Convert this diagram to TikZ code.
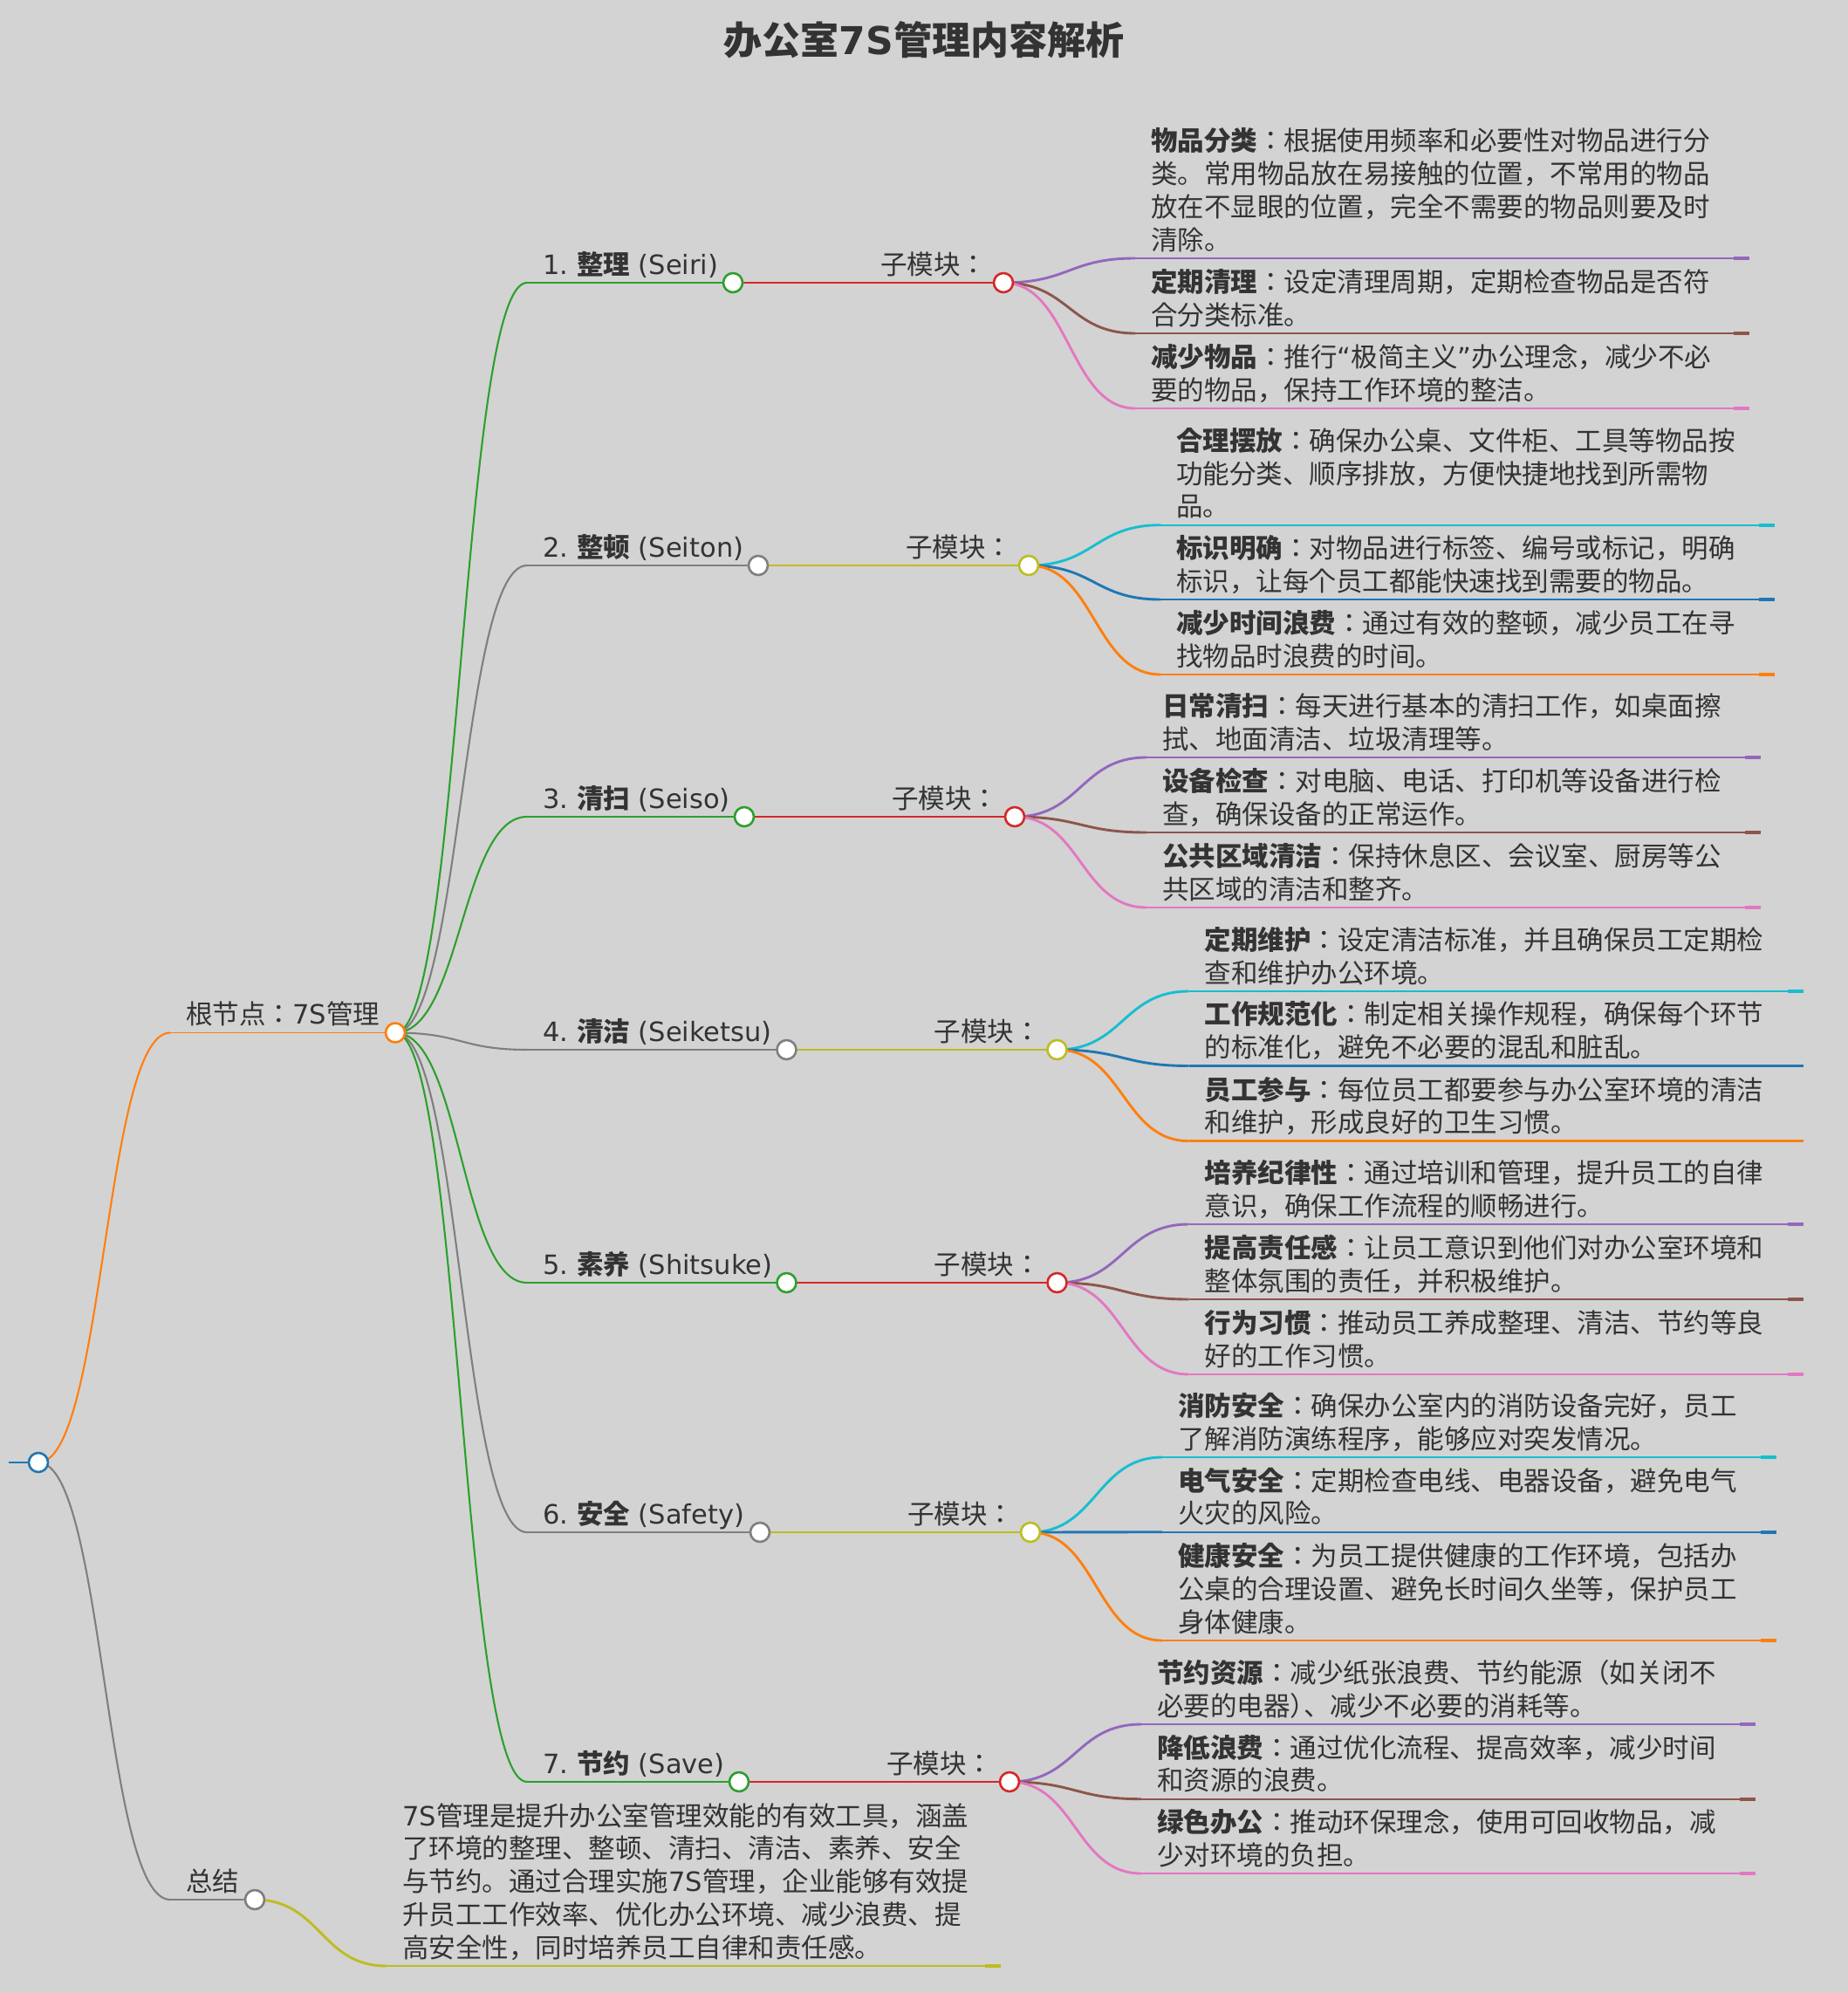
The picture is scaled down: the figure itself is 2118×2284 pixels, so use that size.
\documentclass[tikz,border=0pt]{standalone}
\usepackage{fontspec}
\setmainfont{Noto Sans CJK JP}
\newfontfamily\lat{DejaVu Sans}
\usetikzlibrary{calc}
\definecolor{bgc}{HTML}{D3D3D3}
\definecolor{txt}{HTML}{333333}
\definecolor{mblue}{HTML}{1F77B4}
\definecolor{morange}{HTML}{FF7F0E}
\definecolor{mgreen}{HTML}{2CA02C}
\definecolor{mred}{HTML}{D62728}
\definecolor{mpurple}{HTML}{9467BD}
\definecolor{mbrown}{HTML}{8C564B}
\definecolor{mpink}{HTML}{E377C2}
\definecolor{mgray}{HTML}{7F7F7F}
\definecolor{molive}{HTML}{BCBD22}
\definecolor{mcyan}{HTML}{17BECF}
\pgfdeclarelayer{back}
\pgfdeclarelayer{links}
\pgfsetlayers{back,links,main}
\begin{document}
\begin{tikzpicture}[x=0.5pt,y=-0.5pt,
	lbl/.style={anchor=south west,inner sep=0pt,align=left,text=txt,font=\fontsize{15.25}{18.9}\selectfont},
	knob/.style={circle,draw=#1,fill=white,line width=1.3pt,minimum size=11pt,inner sep=0pt},
	lnkA/.style={line width=1.05pt},ulA/.style={line width=0.9pt},
	lnkB/.style={line width=1.05pt},ulB/.style={line width=0.85pt},
	lnkC/.style={line width=1.45pt},ulC/.style={line width=0.85pt},
	lnkD/.style={line width=1.45pt},ulD/.style={line width=1.15pt},
	tipD/.style={line width=1.8pt}]
	\useasboundingbox (0,0) rectangle (2118,2284);
	\begin{pgfonlayer}{back}
		\fill[bgc] (0,0) rectangle (2118,2284);
	\end{pgfonlayer}
	\node[font=\fontsize{22}{26}\selectfont\bfseries,text=txt,inner sep=0pt] (title) at (1059,46) {办公室{\lat 7S}管理内容解析};
	% root, 根节点, 总结
	\coordinate (r0) at (10,1676);
	\node[knob=mblue] (r) at (44,1676) {};
	\coordinate (g0) at (195,1183.5);
	\node[lbl] (gt) at (213,1185.5) {根节点：{\lat 7S}管理\strut};
	\node[knob=morange] (g) at (453,1183.5) {};
	\coordinate (z0) at (195,2177);
	\node[lbl] (zt) at (213,2179) {总结\strut};
	\node[knob=mgray] (z) at (292,2177) {};
	\coordinate (zs0) at (443,2253);
	\node[lbl] (zs) at (461,2255) {{\lat 7S}管理是提升办公室管理效能的有效工具，涵盖\\了环境的整理、整顿、清扫、清洁、素养、安全\\与节约。通过合理实施{\lat 7S}管理，企业能够有效提\\升员工工作效率、优化办公环境、减少浪费、提\\高安全性，同时培养员工自律和责任感。\strut};
	\begin{pgfonlayer}{links}
		\draw[line width=1.3pt,mblue] (r0) -- (r.center);
		\draw[lnkA,morange] (r.center) .. controls +(75.5,0) and +(-75.5,0) .. (g0);
		\draw[ulA,morange] (g0) -- (g.center);
		\draw[lnkA,mgray] (r.center) .. controls +(75.5,0) and +(-75.5,0) .. (z0);
		\draw[ulA,mgray] (z0) -- (z.center);
		\draw[lnkD,molive] (z.center) .. controls +(75.5,0) and +(-75.5,0) .. (zs0);
		\draw[ulD,molive] (zs0) -- ++(704,0);
		\draw[tipD,molive] ($(zs0)+(686,0)$) -- ++(18,0);
	\end{pgfonlayer}
	% the seven S
	\foreach \i/\yy/\cx/\bc/\sc/\lab in {
		1/324/840/mgreen/mred/{{\lat 1.\ }{\bfseries 整理}{\lat\ (Seiri)}},
		2/648/869/mgray/molive/{{\lat 2.\ }{\bfseries 整顿}{\lat\ (Seiton)}},
		3/936/853/mgreen/mred/{{\lat 3.\ }{\bfseries 清扫}{\lat\ (Seiso)}},
		4/1203/901.5/mgray/molive/{{\lat 4.\ }{\bfseries 清洁}{\lat\ (Seiketsu)}},
		5/1470/901.5/mgreen/mred/{{\lat 5.\ }{\bfseries 素养}{\lat\ (Shitsuke)}},
		6/1756/871/mgray/molive/{{\lat 6.\ }{\bfseries 安全}{\lat\ (Safety)}},
		7/2042/847/mgreen/mred/{{\lat 7.\ }{\bfseries 节约}{\lat\ (Save)}}}{
		\coordinate (b\i) at (604,\yy);
		\node[lbl] (bt\i) at (622,\yy+2) {\lab\strut};
		\node[knob=\bc] (c\i) at (\cx,\yy) {};
		\coordinate (s\i) at (\cx+151,\yy);
		\node[lbl] (st\i) at (\cx+169,\yy+2) {子模块：\strut};
		\node[knob=\sc] (d\i) at (\cx+310,\yy) {};
		\begin{pgfonlayer}{links}
			\draw[lnkB,\bc] (g.center) .. controls +(75.5,0) and +(-75.5,0) .. (b\i);
			\draw[ulB,\bc] (b\i) -- (c\i.center);
			\draw[lnkC,\sc] (c\i.center) -- (s\i);
			\draw[ulC,\sc] (s\i) -- (d\i.center);
		\end{pgfonlayer}
	}
	% 1. 整理
	\foreach \yy/\lc/\tx [count=\k] in {
		296/mpurple/{{\bfseries 物品分类}：根据使用频率和必要性对物品进行分\\类。常用物品放在易接触的位置，不常用的物品\\放在不显眼的位置，完全不需要的物品则要及时\\清除。},
		382/mbrown/{{\bfseries 定期清理}：设定清理周期，定期检查物品是否符\\合分类标准。},
		468/mpink/{{\bfseries 减少物品}：推行{\lat “}极简主义{\lat ”}办公理念，减少不必\\要的物品，保持工作环境的整洁。}}{
		\coordinate (l1\k) at (1301,\yy);
		\node[lbl] (n1\k) at (1319,\yy+2) {\tx\strut};
		\begin{pgfonlayer}{links}
			\draw[lnkD,\lc] (d1.center) .. controls +(75.5,0) and +(-75.5,0) .. (l1\k);
			\draw[ulD,\lc] (l1\k) -- ++(704,0);
			\draw[tipD,\lc] ($(l1\k)+(686,0)$) -- ++(18,0);
		\end{pgfonlayer}
	}
	% 2. 整顿
	\foreach \yy/\lc/\tx [count=\k] in {
		601.7/mcyan/{{\bfseries 合理摆放}：确保办公桌、文件柜、工具等物品按\\功能分类、顺序排放，方便快捷地找到所需物\\品。},
		687/mblue/{{\bfseries 标识明确}：对物品进行标签、编号或标记，明确\\标识，让每个员工都能快速找到需要的物品。},
		773/morange/{{\bfseries 减少时间浪费}：通过有效的整顿，减少员工在寻\\找物品时浪费的时间。}}{
		\coordinate (l2\k) at (1330,\yy);
		\node[lbl] (n2\k) at (1348,\yy+2) {\tx\strut};
		\begin{pgfonlayer}{links}
			\draw[lnkD,\lc] (d2.center) .. controls +(75.5,0) and +(-75.5,0) .. (l2\k);
			\draw[ulD,\lc] (l2\k) -- ++(704,0);
			\draw[tipD,\lc] ($(l2\k)+(686,0)$) -- ++(18,0);
		\end{pgfonlayer}
	}
	% 3. 清扫
	\foreach \yy/\lc/\tx [count=\k] in {
		868/mpurple/{{\bfseries 日常清扫}：每天进行基本的清扫工作，如桌面擦\\拭、地面清洁、垃圾清理等。},
		954/mbrown/{{\bfseries 设备检查}：对电脑、电话、打印机等设备进行检\\查，确保设备的正常运作。},
		1040/mpink/{{\bfseries 公共区域清洁}：保持休息区、会议室、厨房等公\\共区域的清洁和整齐。}}{
		\coordinate (l3\k) at (1314,\yy);
		\node[lbl] (n3\k) at (1332,\yy+2) {\tx\strut};
		\begin{pgfonlayer}{links}
			\draw[lnkD,\lc] (d3.center) .. controls +(75.5,0) and +(-75.5,0) .. (l3\k);
			\draw[ulD,\lc] (l3\k) -- ++(704,0);
			\draw[tipD,\lc] ($(l3\k)+(686,0)$) -- ++(18,0);
		\end{pgfonlayer}
	}
	% 4. 清洁
	\foreach \yy/\lc/\tx [count=\k] in {
		1136/mcyan/{{\bfseries 定期维护}：设定清洁标准，并且确保员工定期检\\查和维护办公环境。},
		1221.5/mblue/{{\bfseries 工作规范化}：制定相关操作规程，确保每个环节\\的标准化，避免不必要的混乱和脏乱。},
		1307.6/morange/{{\bfseries 员工参与}：每位员工都要参与办公室环境的清洁\\和维护，形成良好的卫生习惯。}}{
		\coordinate (l4\k) at (1362.5,\yy);
		\node[lbl] (n4\k) at (1380.5,\yy+2) {\tx\strut};
		\begin{pgfonlayer}{links}
			\draw[lnkD,\lc] (d4.center) .. controls +(75.5,0) and +(-75.5,0) .. (l4\k);
			\draw[ulD,\lc] (l4\k) -- ++(704,0);
			\draw[tipD,\lc] ($(l4\k)+(686,0)$) -- ++(18,0);
		\end{pgfonlayer}
	}
	% 5. 素养
	\foreach \yy/\lc/\tx [count=\k] in {
		1403/mpurple/{{\bfseries 培养纪律性}：通过培训和管理，提升员工的自律\\意识，确保工作流程的顺畅进行。},
		1489/mbrown/{{\bfseries 提高责任感}：让员工意识到他们对办公室环境和\\整体氛围的责任，并积极维护。},
		1575/mpink/{{\bfseries 行为习惯}：推动员工养成整理、清洁、节约等良\\好的工作习惯。}}{
		\coordinate (l5\k) at (1362.5,\yy);
		\node[lbl] (n5\k) at (1380.5,\yy+2) {\tx\strut};
		\begin{pgfonlayer}{links}
			\draw[lnkD,\lc] (d5.center) .. controls +(75.5,0) and +(-75.5,0) .. (l5\k);
			\draw[ulD,\lc] (l5\k) -- ++(704,0);
			\draw[tipD,\lc] ($(l5\k)+(686,0)$) -- ++(18,0);
		\end{pgfonlayer}
	}
	% 6. 安全
	\foreach \yy/\lc/\tx [count=\k] in {
		1670/mcyan/{{\bfseries 消防安全}：确保办公室内的消防设备完好，员工\\了解消防演练程序，能够应对突发情况。},
		1755.7/mblue/{{\bfseries 电气安全}：定期检查电线、电器设备，避免电气\\火灾的风险。},
		1880/morange/{{\bfseries 健康安全}：为员工提供健康的工作环境，包括办\\公桌的合理设置、避免长时间久坐等，保护员工\\身体健康。}}{
		\coordinate (l6\k) at (1332,\yy);
		\node[lbl] (n6\k) at (1350,\yy+2) {\tx\strut};
		\begin{pgfonlayer}{links}
			\draw[lnkD,\lc] (d6.center) .. controls +(75.5,0) and +(-75.5,0) .. (l6\k);
			\draw[ulD,\lc] (l6\k) -- ++(704,0);
			\draw[tipD,\lc] ($(l6\k)+(686,0)$) -- ++(18,0);
		\end{pgfonlayer}
	}
	% 7. 节约
	\foreach \yy/\lc/\tx [count=\k] in {
		1976/mpurple/{{\bfseries 节约资源}：减少纸张浪费、节约能源（如关闭不\\必要的电器）\kern-.5em 、减少不必要的消耗等。},
		2061.7/mbrown/{{\bfseries 降低浪费}：通过优化流程、提高效率，减少时间\\和资源的浪费。},
		2147/mpink/{{\bfseries 绿色办公}：推动环保理念，使用可回收物品，减\\少对环境的负担。}}{
		\coordinate (l7\k) at (1308,\yy);
		\node[lbl] (n7\k) at (1326,\yy+2) {\tx\strut};
		\begin{pgfonlayer}{links}
			\draw[lnkD,\lc] (d7.center) .. controls +(75.5,0) and +(-75.5,0) .. (l7\k);
			\draw[ulD,\lc] (l7\k) -- ++(704,0);
			\draw[tipD,\lc] ($(l7\k)+(686,0)$) -- ++(18,0);
		\end{pgfonlayer}
	}
\end{tikzpicture}
\end{document}
